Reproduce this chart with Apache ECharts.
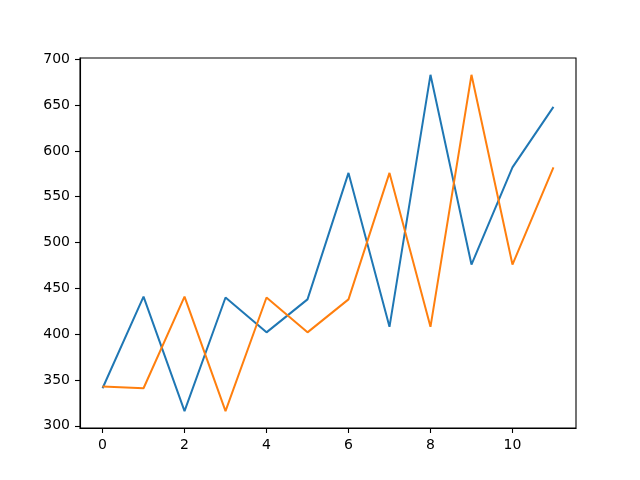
<!DOCTYPE html>
<html>
<head>
<meta charset="utf-8">
<script src="https://cdn.jsdelivr.net/npm/echarts@6/dist/echarts.min.js"></script>
<style>
  html, body { margin: 0; padding: 0; background: #fff; }
  #chart { width: 640px; height: 480px; }
</style>
</head>
<body>
<div id="chart"></div>
<script>
// values
const xValues = [0, 1, 2, 3, 4, 5, 6, 7, 8, 9, 10, 11];
const blueSeries = [341, 441, 316, 440, 402, 438, 576, 408, 683, 476, 582, 648];
const orangeSeries = [343, 341, 441, 316, 440, 402, 438, 576, 408, 683, 476, 582];
const xTicks = [0, 2, 4, 6, 8, 10];
const yTicks = [300, 350, 400, 450, 500, 550, 600, 650, 700];

// matplotlib-style 5% margins around the data
function padExtent(vals) {
  const lo = Math.min(...vals), hi = Math.max(...vals);
  const m = (hi - lo) * 0.05;
  return [lo - m, hi + m];
}
const xExt = padExtent(xValues);
const yExt = padExtent(blueSeries.concat(orangeSeries));

const font = { fontFamily: 'DejaVu Sans', fontSize: 14, color: '#000' };

const axisCommon = {
  type: 'value',
  axisLine: { show: true, onZero: false, lineStyle: { color: '#000', width: 1.1 } },
  axisTick: { show: true, inside: false, length: 5, lineStyle: { color: '#000', width: 1.1 } },
  splitLine: { show: false },
};

const option = {
  animation: false,
  backgroundColor: '#fff',
  grid: {
    left: 80, right: 64, top: 58, bottom: 52,
    show: true, borderColor: '#000', borderWidth: 1.1, backgroundColor: 'transparent'
  },
  xAxis: Object.assign({}, axisCommon, {
    min: xExt[0], max: xExt[1],
    axisTick: Object.assign({}, axisCommon.axisTick, { customValues: xTicks }),
    axisLabel: Object.assign({}, font, { margin: 10, customValues: xTicks })
  }),
  yAxis: Object.assign({}, axisCommon, {
    min: yExt[0], max: yExt[1],
    axisTick: Object.assign({}, axisCommon.axisTick, { customValues: yTicks }),
    axisLabel: Object.assign({}, font, { margin: 10, customValues: yTicks })
  }),
  series: [
    {
      type: 'line',
      data: xValues.map((x, i) => [x, blueSeries[i]]),
      showSymbol: false,
      lineStyle: { color: '#1f77b4', width: 2 },
      itemStyle: { color: '#1f77b4' }
    },
    {
      type: 'line',
      data: xValues.map((x, i) => [x, orangeSeries[i]]),
      showSymbol: false,
      lineStyle: { color: '#ff7f0e', width: 2 },
      itemStyle: { color: '#ff7f0e' }
    }
  ]
};

const myChart = echarts.init(document.getElementById('chart'), null, { renderer: 'canvas' });
myChart.setOption(option);
</script>
</body>
</html>
